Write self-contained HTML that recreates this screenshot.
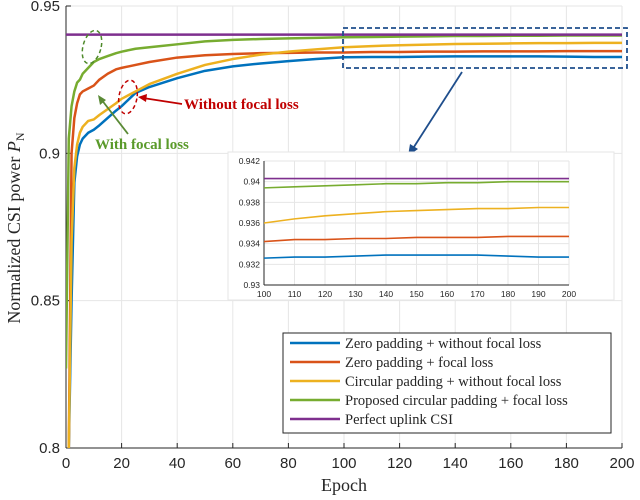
<!DOCTYPE html>
<html><head><meta charset="utf-8"><style>
html,body{margin:0;padding:0;background:#fff;width:640px;height:500px;overflow:hidden}
svg{display:block}
.t{font-family:"Liberation Sans",sans-serif;font-size:15px;fill:#262626}
.s{font-family:"Liberation Serif",serif;fill:#262626}
.it{font-family:"Liberation Sans",sans-serif;font-size:8.5px;fill:#262626}
</style></head><body>
<svg id="c" width="640" height="500" xmlns="http://www.w3.org/2000/svg"></svg>
<script>
const epochs=[0,1,2,3,4,5,6,8,10,12,15,18,20,25,30,40,50,60,70,80,90,100,110,120,130,140,150,160,170,180,190,200];
const blue=[0.7,0.76,0.85,0.89,0.899,0.903,0.905,0.907,0.908,0.9095,0.912,0.9145,0.916,0.9205,0.9225,0.9255,0.928,0.9295,0.9305,0.9313,0.932,0.9326,0.9327,0.9327,0.9328,0.9329,0.9329,0.9329,0.9329,0.9328,0.9327,0.9327];
const orange=[0.75,0.79,0.9,0.912,0.917,0.92,0.921,0.922,0.923,0.925,0.927,0.9285,0.929,0.93,0.931,0.9325,0.9333,0.9337,0.934,0.9341,0.9342,0.9342,0.9344,0.9344,0.9345,0.9345,0.9346,0.9346,0.9346,0.9347,0.9347,0.9347];
const yellow=[0.74,0.78,0.87,0.895,0.903,0.907,0.909,0.911,0.9115,0.913,0.915,0.917,0.9185,0.921,0.9235,0.927,0.93,0.932,0.9335,0.9345,0.9353,0.936,0.9364,0.9367,0.9369,0.9371,0.9372,0.9373,0.9374,0.9374,0.9375,0.9375];
const green=[0.827,0.905,0.916,0.921,0.924,0.925,0.927,0.929,0.931,0.932,0.933,0.934,0.9345,0.9355,0.936,0.937,0.938,0.9385,0.9388,0.939,0.9392,0.9394,0.9395,0.9396,0.9397,0.9398,0.9398,0.9399,0.9399,0.94,0.94,0.94];
const perfect=[0.9403,0.9403];
const perfectEpochs=[0,200];
const xTicks=[0,20,40,60,80,100,120,140,160,180,200];
const yTicks=[0.8,0.85,0.9,0.95];
const yTickLabels=["0.8","0.85","0.9","0.95"];
const insetXTicks=[100,110,120,130,140,150,160,170,180,190,200];
const insetYTicks=[0.93,0.932,0.934,0.936,0.938,0.94,0.942];
const insetYLabels=["0.93","0.932","0.934","0.936","0.938","0.94","0.942"];
const legendLabels=["Zero padding + without focal loss","Zero padding + focal loss","Circular padding + without focal loss","Proposed circular padding + focal loss","Perfect uplink CSI"];
const colors=["#0072BD","#D95319","#EDB120","#77AC30","#7E2F8E"];

const NS="http://www.w3.org/2000/svg";
const svg=document.getElementById('c');
function el(t,a,p){const e=document.createElementNS(NS,t);for(const k in a)e.setAttribute(k,a[k]);(p||svg).appendChild(e);return e;}
const X0=66,X1=622,Y0=448,Y1=6;
const x=v=>X0+(v-0)/(200-0)*(X1-X0);
const y=v=>Y0-(v-0.8)/(0.95-0.8)*(Y0-Y1);
const ix=v=>264+(v-100)/100*(569-264);
const iy=v=>285-(v-0.93)/0.012*(285-161);

const defs=el('defs',{});
const cp=el('clipPath',{id:'cp'},defs);el('rect',{x:X0,y:Y1,width:X1-X0,height:Y0-Y1},cp);
const cp2=el('clipPath',{id:'cp2'},defs);el('rect',{x:264,y:161,width:305,height:124},cp2);

const grid=el('g',{});


xTicks.forEach(v=>{el('line',{x1:x(v),x2:x(v),y1:Y1,y2:Y0,stroke:'#e6e6e6','stroke-width':1},grid);});
yTicks.forEach(v=>{el('line',{x1:X0,x2:X1,y1:y(v),y2:y(v),stroke:'#e6e6e6','stroke-width':1},grid);});

const ax=el('g',{});


el('line',{x1:X0,x2:X0,y1:Y1,y2:Y0,stroke:'#262626','stroke-width':1},ax);
el('line',{x1:X0,x2:X1,y1:Y0,y2:Y0,stroke:'#262626','stroke-width':1},ax);
xTicks.forEach(v=>{el('line',{x1:x(v),x2:x(v),y1:Y0,y2:Y0-5,stroke:'#262626'},ax);
 const t=el('text',{x:x(v),y:Y0+20,'text-anchor':'middle',class:'t'},ax);t.textContent=v;
 
 });
yTicks.forEach((v,i)=>{el('line',{x1:X0,x2:X0+5,y1:y(v),y2:y(v),stroke:'#262626'},ax);
 const t=el('text',{x:X0-6,y:y(v)+5,'text-anchor':'end',class:'t'},ax);t.textContent=yTickLabels[i];
 
 });
const xl=el('text',{x:344,y:491,'text-anchor':'middle',class:'s','font-size':18});xl.textContent='Epoch';


const yl=el('text',{x:0,y:0,'text-anchor':'middle',class:'s','font-size':18,transform:'translate(20,228) rotate(-90)'});
yl.innerHTML='Normalized CSI power <tspan font-style="italic">P</tspan><tspan font-size="12" dy="4">N</tspan>';



function pts(xs,ys,fx,fy,lo,hi){return xs.map((e,i)=>fx(e).toFixed(2)+','+Math.min(lo,Math.max(hi,fy(ys[i]))).toFixed(2)).join(' ');}
const series=[blue,orange,yellow,green];
const names=['series-zero-no-focal','series-zero-focal','series-circular-no-focal','series-proposed'];
const lines=el('g',{'clip-path':'url(#cp)'});
series.forEach((s,i)=>{const p=el('polyline',{points:pts(epochs,s,x,y,Y0+2,Y1),fill:'none',stroke:colors[i],'stroke-width':2.5,'stroke-linejoin':'round'},lines);
 
 });
const pp=el('polyline',{points:pts(perfectEpochs,perfect,x,y,Y0+2,Y1),fill:'none',stroke:colors[4],'stroke-width':2.5},lines);



const zb=el('rect',{x:343,y:28,width:284,height:40,fill:'none',stroke:'#1f4e8c','stroke-width':1.8,'stroke-dasharray':'5,3'});


el('line',{x1:462,y1:72,x2:412,y2:150,stroke:'#1f4e8c','stroke-width':1.8});
el('polygon',{points:'408,156 410,144 418,149',fill:'#1f4e8c'});
const ge=el('ellipse',{cx:92,cy:47,rx:9,ry:17,fill:'none',stroke:'#4e8a2a','stroke-width':1.5,'stroke-dasharray':'4,3',transform:'rotate(15 92 47)'});


const re=el('ellipse',{cx:128,cy:97,rx:9,ry:17,fill:'none',stroke:'#c00000','stroke-width':1.5,'stroke-dasharray':'4,3',transform:'rotate(10 128 97)'});


el('line',{x1:128,y1:134,x2:101,y2:99,stroke:'#5a8a35','stroke-width':1.8});
el('polygon',{points:'98,95 100,105 106,100',fill:'#5a8a35'});
el('line',{x1:182,y1:104,x2:143,y2:98,stroke:'#c00000','stroke-width':1.8});
el('polygon',{points:'138,97 147,94 146,102',fill:'#c00000'});
const gt=el('text',{x:95,y:149,class:'s','font-size':15,'font-weight':'bold'});gt.textContent='With focal loss';gt.style.fill='#5a9a2a';


const rt=el('text',{x:184,y:109,class:'s','font-size':15,'font-weight':'bold'});rt.textContent='Without focal loss';rt.style.fill='#c00000';



const ins=el('g',{});


el('rect',{x:228,y:152,width:386,height:148,fill:'#fff',stroke:'#e6e6e6'},ins);
insetXTicks.forEach(v=>{el('line',{x1:ix(v),x2:ix(v),y1:161,y2:285,stroke:'#e6e6e6'},ins);
 const t=el('text',{x:ix(v),y:297,'text-anchor':'middle',class:'it'},ins);t.textContent=v;});
insetYTicks.forEach((v,i)=>{el('line',{x1:264,x2:569,y1:iy(v),y2:iy(v),stroke:'#e6e6e6'},ins);
 const t=el('text',{x:260,y:iy(v)+3,'text-anchor':'end',class:'it'},ins);t.textContent=insetYLabels[i];});
el('line',{x1:264,x2:264,y1:161,y2:285,stroke:'#262626'},ins);
el('line',{x1:264,x2:569,y1:285,y2:285,stroke:'#262626'},ins);
const il=el('g',{'clip-path':'url(#cp2)'},ins);
series.forEach((s,i)=>{el('polyline',{points:pts(epochs,s,ix,iy,287,159),fill:'none',stroke:colors[i],'stroke-width':1.6},il);});
el('polyline',{points:pts(perfectEpochs,perfect,ix,iy,287,159),fill:'none',stroke:colors[4],'stroke-width':1.6},il);

const lg=el('g',{});


el('rect',{x:283,y:333,width:328,height:100,fill:'#fff',stroke:'#262626','stroke-width':1},lg);
legendLabels.forEach((l,i)=>{const yy=343+i*19;
 const g=el('g',{},lg);
 
 
 el('line',{x1:290,x2:340,y1:yy,y2:yy,stroke:colors[i],'stroke-width':2.5},g);
 const t=el('text',{x:345,y:yy+5,class:'s','font-size':14.5},g);t.textContent=l;});
</script>
</body></html>
